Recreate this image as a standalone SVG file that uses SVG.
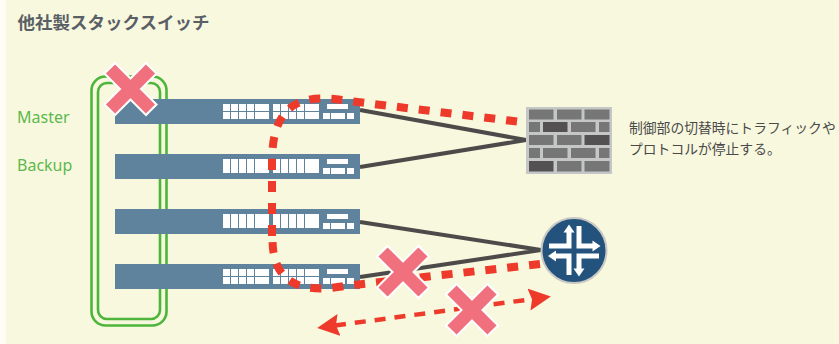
<svg xmlns="http://www.w3.org/2000/svg" width="839" height="344" viewBox="0 0 839 344">
<style>
.t{font-family:"Noto Sans CJK JP","Noto Sans",sans-serif}
.lab{font-family:"Noto Sans","Open Sans",sans-serif;font-size:16px;fill:#5cb84c}
.desc{font-size:13.8px;fill:#4a4a4a}
.sw{fill:#5f839c}.p{fill:#fff}
.brick{fill:#767676}.dk{fill:#535152}
.ring{fill:none;stroke:#4cb53a;stroke-width:2.6}
.link{fill:none;stroke:#4d4b4a;stroke-width:4}
.red{fill:none;stroke:#ee3a2b;stroke-width:8;stroke-dasharray:11 11}
.red2{fill:none;stroke:#ee3a2b;stroke-width:4.500;stroke-dasharray:11 9}
.xw{stroke:#fff;stroke-width:17;fill:none}.xp{stroke:#f0717d;stroke-width:13;fill:none}
.ar{fill:none;stroke:#fff;stroke-width:5}
</style>
<defs>
<marker id="ah" markerUnits="userSpaceOnUse" markerWidth="22" markerHeight="24" refX="4" refY="12" orient="auto-start-reverse" viewBox="0 0 22 24"><path d="M0,1L22,12L0,23L3,12Z" fill="#ee3a2b"/></marker>
<g id="xm"><path class="xw" d="M-21.500,-21.500L21.500,21.500M21.500,-21.500L-21.500,21.500"/><path class="xp" d="M-20,-20L20,20M20,-20L-20,20"/></g>
<g id="two"><rect class="sw" width="245" height="25"/>
<path class="p" d="M108,5h7v7h-7zM116,5h7v7h-7zM124,5h7v7h-7zM132,5h7v7h-7zM140,5h14v7h-14zM158,5h7v7h-7zM166,5h7v7h-7zM174,5h7v7h-7zM182,5h7v7h-7zM190,5h14v7h-14zM108,13h7v7h-7zM116,13h7v7h-7zM124,13h7v7h-7zM132,13h7v7h-7zM140,13h14v7h-14zM158,13h7v7h-7zM166,13h7v7h-7zM174,13h7v7h-7zM182,13h7v7h-7zM190,13h14v7h-14zM212,5h21v5h-21zM208,14h7v6h-7zM216,14h14v6h-14zM232,14h7v6h-7z"/></g>
<g id="one"><rect class="sw" width="245" height="25"/>
<path class="p" d="M108,5h7v14h-7zM116,5h7v14h-7zM124,5h7v14h-7zM132,5h7v14h-7zM140,5h14v14h-14zM158,5h7v14h-7zM166,5h7v14h-7zM174,5h7v14h-7zM182,5h7v14h-7zM190,5h14v14h-14zM212,5h21v5h-21zM208,14h7v6h-7zM216,14h14v6h-14zM232,14h7v6h-7z"/></g>
</defs>
<rect width="839" height="344" fill="#f8f8de"/>
<rect width="6" height="344" fill="#fdfdf3"/>
<text class="t" x="17.500" y="29" font-size="17.500" font-weight="700" fill="#5a5f66">他社製スタックスイッチ</text>
<g id="stack-ring"><rect class="ring" x="91.500" y="76.500" width="75" height="249" rx="14"/><rect class="ring" x="98" y="83" width="62" height="236" rx="9"/></g>
<text class="lab" x="17" y="123">Master</text>
<text class="lab" x="17" y="171">Backup</text>
<g id="connectors">
<path class="link" d="M360,110L526,140L360,167"/>
<path class="link" d="M360,222L541,250L360,277"/>
</g>
<g id="switch-1"><use href="#two" x="115" y="99"/></g>
<g id="switch-2"><use href="#one" x="115" y="154"/></g>
<g id="switch-3"><use href="#one" x="115" y="209"/></g>
<g id="switch-4"><use href="#two" x="115" y="264"/></g>
<g id="firewall"><rect x="526" y="107" width="86" height="67" fill="#c5c6c6"/>
<path class="brick" d="M529,109.500h24.500v10h-24.500zM557,109.500h24.500v10h-24.500zM584.500,109.500h25v10h-25zM529,122h11v10h-11zM571,122h24.500v10h-24.500zM599,122h10.500v10h-10.500zM529,135h24.500v10h-24.500zM557,135h24.500v10h-24.500zM529,148h11v10h-11zM543,148h24.500v10h-24.500zM571,148h24.500v10h-24.500zM599,148h10.500v10h-10.500zM557,161h24.500v10.500h-24.500zM584.500,161h25v10.500h-25z"/>
<path class="dk" d="M543,122h24.500v10h-24.500zM584.500,135h25v10h-25zM529,161h24.500v10.500h-24.500z"/></g>
<g id="router"><circle cx="574" cy="250.500" r="32.500" fill="#23527c" stroke="#c8c8c4" stroke-width="2"/>
<path class="ar" d="M549,246H569V229M579,226V246H596M599,256H579V272M569,275V256H552"/>
<path class="p" d="M569,224.500l-5.500,8h11zM600.500,246l-8,-5.500v11zM579,276.500l-5.500,-8h11zM548,256l8,-5.500v11z"/></g>
<g id="failed-paths">
<path class="red" d="M517,121.500L345,100.500C305,94 272,100 272,162L272,239"/>
<path class="red" d="M540,264L345,286C310,292 273,290 272.500,240"/>
<path class="red2" d="M335,325.500L533,299" marker-start="url(#ah)" marker-end="url(#ah)"/>
</g>
<g id="x-marks"><use href="#xm" x="130.500" y="89"/><use href="#xm" x="403" y="272"/><use href="#xm" x="472" y="310"/></g>
<text class="t desc" x="629" y="133">制御部の切替時にトラフィックや</text>
<text class="t desc" x="629" y="154">プロトコルが停止する。</text>
</svg>
